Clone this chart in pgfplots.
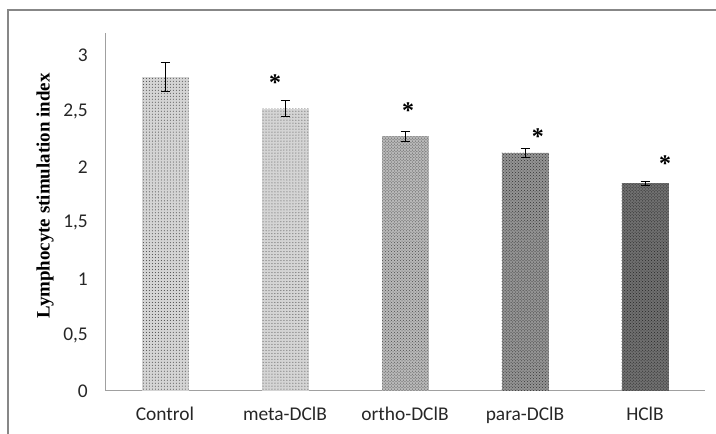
\documentclass[border=0pt]{standalone}
\usepackage{pgfplots}
\pgfplotsset{compat=1.18}
\usepackage{fontspec}
\setmainfont{Carlito}
\newfontfamily\serifb{Liberation Serif}
\usetikzlibrary{patterns}
\definecolor{framegray}{HTML}{878787}
\definecolor{axgray}{HTML}{A0A0A0}
\begin{document}
\begin{tikzpicture}[x=1bp,y=1bp]
\path[use as bounding box] (0,0) rectangle (716,434);
\draw[framegray, line width=1.6bp] (8,-2) -- (8,424) -- (718,424);
\node[rotate=90, font=\serifb\bfseries\fontsize{19}{22}\selectfont] at (45,238) {Lymphocyte stimulation index};
\begin{axis}[
  at={(105bp,43bp)}, anchor=south west,
  scale only axis, width=600bp, height=358bp,
  xmin=-0.5, xmax=4.5, ymin=0, ymax=3.196,
  axis x line=bottom, axis y line=left,
  axis line style={axgray, line width=1bp, -},
  xtick={0,1,2,3,4},
  xticklabels={Control, meta-DClB, ortho-DClB, para-DClB, HClB},
  ytick={0,0.5,1,1.5,2,2.5,3},
  major tick length=0pt,
  /pgf/number format/use comma,
  /pgf/number format/assume math mode=true,
  tick label style={font=\fontsize{19.5}{23}\selectfont, text=black!85},
  yticklabel style={inner sep=0pt, xshift=-17bp},
  xticklabel style={inner sep=0pt, yshift=-16bp},
  ybar, bar width=47bp, bar shift=0pt,
  clip=false,
]
\addplot[draw=none, fill=black!17, postaction={pattern=dots, pattern color=black!75},
  error bars/.cd, y dir=both, y explicit,
  error bar style={black, line width=0.9bp},
  error mark options={rotate=90, mark size=4.5bp, black, line width=0.9bp}]
  coordinates {(0,2.80) +- (0,0.13)};
\addplot[draw=none, fill=black!17, postaction={pattern=dots, pattern color=black!75},
  error bars/.cd, y dir=both, y explicit,
  error bar style={black, line width=0.9bp},
  error mark options={rotate=90, mark size=4.5bp, black, line width=0.9bp}]
  coordinates {(1,2.52) +- (0,0.07)};
\addplot[draw=none, fill=black!28, postaction={pattern=crosshatch dots, pattern color=black!70},
  error bars/.cd, y dir=both, y explicit,
  error bar style={black, line width=0.9bp},
  error mark options={rotate=90, mark size=4.5bp, black, line width=0.9bp}]
  coordinates {(2,2.275) +- (0,0.045)};
\addplot[draw=none, fill=black!42, postaction={pattern=crosshatch dots, pattern color=black!80},
  error bars/.cd, y dir=both, y explicit,
  error bar style={black, line width=0.9bp},
  error mark options={rotate=90, mark size=4.5bp, black, line width=0.9bp}]
  coordinates {(3,2.125) +- (0,0.04)};
\addplot[draw=none, fill=black!56, postaction={pattern=crosshatch dots, pattern color=black!85},
  error bars/.cd, y dir=both, y explicit,
  error bar style={black, line width=0.9bp},
  error mark options={rotate=90, mark size=4.5bp, black, line width=0.9bp}]
  coordinates {(4,1.855) +- (0,0.02)};
\addplot[draw=none, mark=none, ybar=0pt, fill=none,
  nodes near coords={\serifb\bfseries\fontsize{24}{24}\selectfont *},
  nodes near coords align={center},
  every node near coord/.append style={yshift=-3bp}]
  coordinates {(0.917,2.78) (2.025,2.53) (3.108,2.30) (4.167,2.06)};
\end{axis}
\end{tikzpicture}
\end{document}
